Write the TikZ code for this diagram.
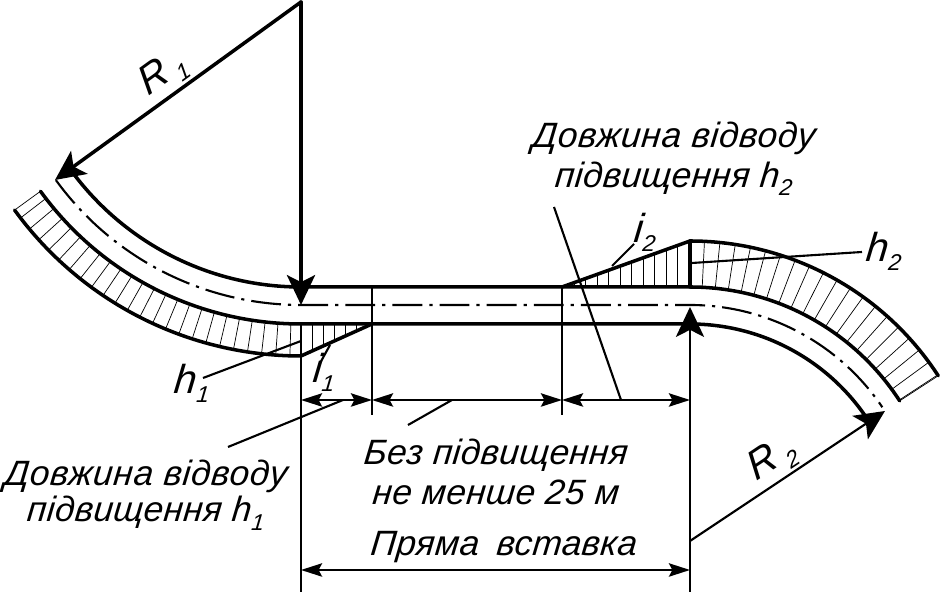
\documentclass[tikz,border=0pt]{standalone}
\usepackage{fontspec}
\setmainfont[LetterSpace=1,ItalicFeatures={FakeSlant=0.1}]{Liberation Sans}
\usetikzlibrary{arrows.meta,calc}
\newcommand{\low}[1]{\raisebox{-2.5pt}{\fontsize{6.5}{7}\selectfont #1}}
\newcommand{\wider}[1]{{\addfontfeature{LetterSpace=2}#1}}
\tikzset{
  heavy/.style={line width=1pt,line cap=round},
  thin line/.style={line width=0.6pt},
  hatch/.style={line width=0.2pt},
  axis/.style={line width=0.6pt,dash pattern=on 8.5pt off 2pt on 0.9pt off 2pt},
  bigarrow/.style={-{Stealth[length=8.5pt,width=8pt,inset=2pt]}},
  dimline/.style={thin line,{Stealth[length=6pt,width=3.8pt,inset=1pt]}-{Stealth[length=6pt,width=3.8pt,inset=1pt]}},
  lbl/.style={font=\fontsize{10}{11.2}\selectfont\itshape,align=center,inner sep=0pt},
  sym/.style={lbl,font=\fontsize{11.5}{12}\selectfont\itshape}
}
\begin{document}
\begin{tikzpicture}[x=0.01cm,y=-0.01cm]
  \useasboundingbox (0,0) rectangle (942,592);
  \coordinate (cOne) at (301,2);
  \coordinate (cTwo) at (690,537);
  \coordinate (a) at (301,356);
  \coordinate (b) at (372,324);
  \coordinate (c) at (562,287);
  \coordinate (d) at (690,241);
  \coordinate (tipOne) at (55,180);
  \coordinate (tipTwo) at (885,411);
  \coordinate (footTwo) at (690,541);
  % hatching
  \foreach \t in {91.8,94.1,...,144} \draw[hatch] ($(cOne)+(\t:322)$) -- ($(cOne)+(\t:354)$);
  \foreach \t in {-87.2,-84.2,...,-33} \draw[hatch] ($(cTwo)+(\t:250)$) -- ($(cTwo)+(\t:296)$);
  \foreach \x in {312,323,...,365} \draw[hatch] (\x,324) -- (\x,{356-(\x-301)*32/71});
  \foreach \x in {574,585.5,...,680} \draw[hatch] (\x,287) -- (\x,{287-(\x-562)*46/128});
  % road edges
  \draw[heavy] (cOne) ++(144:285) arc[start angle=144,end angle=90,radius=285] -- (690,287) arc[start angle=-90,end angle=-33,radius=250];
  \draw[heavy] (cOne) ++(144:322) arc[start angle=144,end angle=90,radius=322] -- (690,324) arc[start angle=-90,end angle=-35,radius=213];
  \draw[heavy] (cOne) ++(144:354) arc[start angle=144,end angle=90,radius=354] -- (b);
  \draw[heavy] (c) -- (d) arc[start angle=-90,end angle=-33,radius=296];
  \draw[axis] (cOne) ++(144:303) arc[start angle=144,end angle=90,radius=303] -- (690,305) arc[start angle=-90,end angle=-34,radius=232];
  \draw[hatch] (cOne) ++(144:322) -- ++(144:32);
  \draw[hatch] (cTwo) ++(-33:250) -- ++(-33:46);
  % radii
  \draw[heavy,bigarrow] (cOne) -- (tipOne) node[pos=0.51,sloped,above=0.7pt,sym] (rOne) {R\,\low{1}};
  \draw[heavy,bigarrow] (cOne) -- (301,305);
  \draw[thin line,bigarrow] (footTwo) -- (tipTwo) node[pos=0.48,sloped,above=0.7pt,sym] (rTwo) {R\,\low{2}};
  \draw[thin line,bigarrow] (690,592) -- (690,307);
  \draw[heavy] (d) -- (690,287);
  % extension lines
  \draw[thin line] (301,324) -- (301,592);
  \draw[thin line] (372,287) -- (372,415);
  \draw[thin line] (562,287) -- (562,415);
  % dimensions
  \draw[dimline] (301,400) -- (372,400);
  \draw[dimline] (372,400) -- (562,400);
  \draw[dimline] (562,400) -- (690,400);
  \draw[dimline] (301,570) -- (690,570);
  % labels
  \node[sym] (hOne) at (191,383) {h\low{1}};
  \node[sym] (iOne) at (323,372) {i\low{1}};
  \node[sym] (hTwo) at (883,251) {h\low{2}};
  \node[sym] (iTwo) at (644,232) {i\low{2}};
  \node[lbl] (lenOne) at (145,495) {\wider{Довжина відводу}\\[-1pt]підвищення h\low{1}};
  \node[lbl] (lenTwo) at (673,159) {\wider{Довжина відводу}\\підвищення h\low{2}};
  \node[lbl] (flat) at (495,472) {Без підвищення\\не менше 25 м};
  \node[lbl] (insert) at (503,547) {Пряма\enspace вставка};
  % leaders
  \draw[thin line] (203,378) -- (301,341);
  \draw[thin line] (319,365) -- (330,345);
  \draw[thin line] (692,263) -- (862,252);
  \draw[thin line] (612,266) -- (634,244);
  \draw[thin line] (554,207) -- (621,400);
  \draw[thin line] (228,447) -- (343,400);
  \draw[thin line] (408,425) -- (452,400);
\end{tikzpicture}
\end{document}
